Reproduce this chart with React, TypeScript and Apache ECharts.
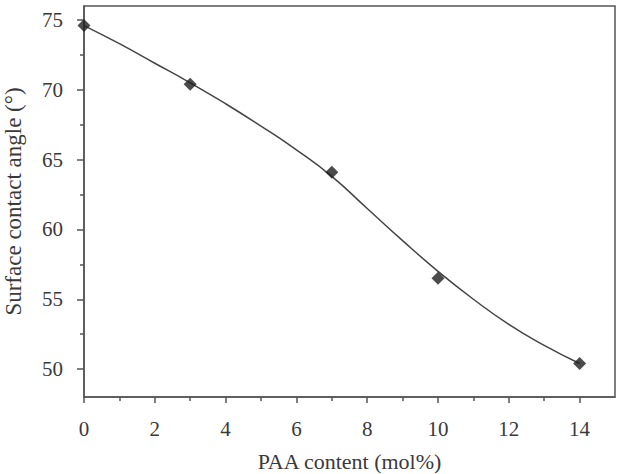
import React, { useEffect, useRef } from "react";
import * as echarts from "echarts";

const pointX = [0, 3, 7, 10, 14];
const pointY = [74.6, 70.4, 64.1, 56.5, 50.4];

const curveX = [0, 1, 2, 3, 4, 5, 6, 7, 8, 9, 10, 11, 12, 13, 14];
const curveY = [74.6, 73.3, 71.9, 70.5, 69.0, 67.4, 65.7, 63.8, 61.5, 59.2, 57.0, 55.0, 53.2, 51.7, 50.4];

const xMajor = [0, 2, 4, 6, 8, 10, 12, 14];
const xMinor = [1, 3, 5, 7, 9, 11, 13];
const yMajor = [50, 55, 60, 65, 70, 75];
const yMinor = [52.5, 57.5, 62.5, 67.5, 72.5];

const FONT = "Liberation Serif";
const TXT = "#3a3a3a";
const AX = "#555";

export default function App() {
  const ref = useRef<HTMLDivElement>(null);
  useEffect(() => {
    if (!ref.current) return;
    const chart = echarts.init(ref.current, null, { renderer: "svg" });
    const baseX = { type: "value", min: 0, max: 15, splitLine: { show: false } };
    const baseY = { type: "value", min: 48, max: 76, splitLine: { show: false } };
    chart.setOption({
      animation: false,
      backgroundColor: "#fff",
      grid: {
        left: 84, top: 6, right: 5, bottom: 77,
        containLabel: false, outerBoundsMode: "none",
        show: true, borderColor: AX, borderWidth: 1.5,
      },
      xAxis: [
        {
          ...baseX,
          position: "bottom",
          name: "PAA content (mol%)",
          nameLocation: "middle",
          nameGap: 53,
          nameTextStyle: { fontFamily: FONT, fontSize: 22, color: TXT },
          axisLine: { show: true, lineStyle: { color: AX, width: 1.5 } },
          axisTick: { show: true, inside: false, length: 6, customValues: xMajor, lineStyle: { color: AX, width: 1.5 } },
          axisLabel: { customValues: xMajor, margin: 21, fontFamily: FONT, fontSize: 21, color: TXT },
        },
        {
          ...baseX,
          position: "bottom",
          axisLine: { show: false },
          axisTick: { show: true, inside: false, length: 4, customValues: xMinor, lineStyle: { color: AX, width: 1.5 } },
          axisLabel: { show: false },
        },
      ],
      yAxis: [
        {
          ...baseY,
          position: "left",
          name: "Surface contact angle (°)",
          nameLocation: "middle",
          nameGap: 59,
          nameRotate: 90,
          nameTextStyle: { fontFamily: FONT, fontSize: 23, color: TXT },
          axisLine: { show: true, lineStyle: { color: AX, width: 1.5 } },
          axisTick: { show: true, inside: false, length: 7, customValues: yMajor, lineStyle: { color: AX, width: 1.5 } },
          axisLabel: { customValues: yMajor, margin: 21, fontFamily: FONT, fontSize: 21, color: TXT },
        },
        {
          ...baseY,
          position: "left",
          axisLine: { show: false },
          axisTick: { show: true, inside: false, length: 4, customValues: yMinor, lineStyle: { color: AX, width: 1.5 } },
          axisLabel: { show: false },
        },
      ],
      series: [
        {
          type: "line",
          xAxisIndex: 0,
          yAxisIndex: 0,
          data: curveX.map((x, i) => [x, curveY[i]]),
          smooth: true,
          showSymbol: false,
          symbol: "none",
          lineStyle: { color: "#444", width: 1.5 },
          z: 2,
        },
        {
          type: "scatter",
          xAxisIndex: 0,
          yAxisIndex: 0,
          data: pointX.map((x, i) => [x, pointY[i]]),
          symbol: "diamond",
          symbolSize: 13,
          itemStyle: { color: "#1e1e1e" },
          z: 3,
        },
      ],
    });
    return () => chart.dispose();
  }, []);
  return <div ref={ref} style={{ width: 620, height: 474, position: "absolute", left: 0, top: 0 }} />;
}
